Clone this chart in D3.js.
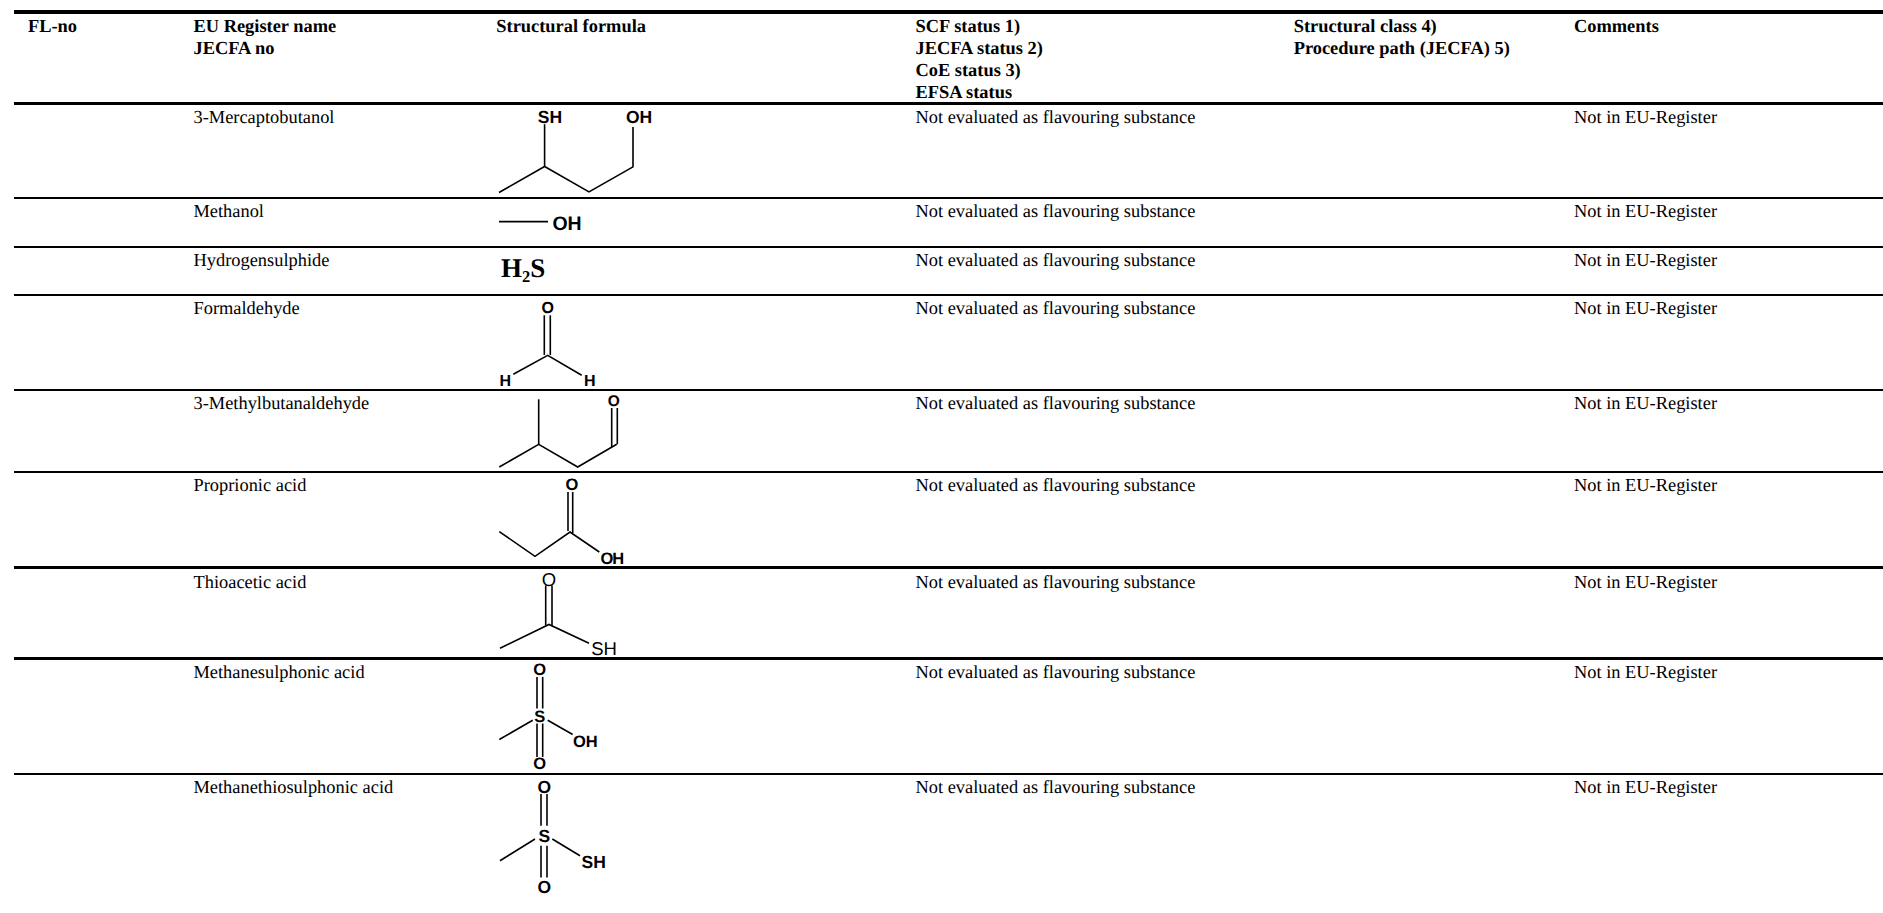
<!DOCTYPE html>
<html>
<head>
<meta charset="utf-8">
<title>Flavouring substances table</title>
<script src="https://cdnjs.cloudflare.com/ajax/libs/d3/7.8.5/d3.min.js"></script>
<style>
  html, body { margin: 0; padding: 0; background: #fff; overflow: hidden; }
  svg { display: block; }
  text { fill: #000; text-rendering: geometricPrecision; }
  .cell { font-family: "Liberation Serif", serif; font-size: 18.4px; }
  .head { font-weight: bold; }
  .atom { font-family: "Liberation Sans", sans-serif; font-weight: bold; text-anchor: middle; }
</style>
</head>
<body>
<div id="container"></div>
<script>
// table text
var headers = [
    ["FL-no"],
    ["EU Register name", "JECFA no"],
    ["Structural formula"],
    ["SCF status 1)", "JECFA status 2)", "CoE status 3)", "EFSA status"],
    ["Structural class 4)", "Procedure path (JECFA) 5)"],
    ["Comments"]
];
var substances = [
    "3-Mercaptobutanol",
    "Methanol",
    "Hydrogensulphide",
    "Formaldehyde",
    "3-Methylbutanaldehyde",
    "Proprionic acid",
    "Thioacetic acid",
    "Methanesulphonic acid",
    "Methanethiosulphonic acid"
];
var statusText = "Not evaluated as flavouring substance";
var commentText = "Not in EU-Register";

// structural formulas: bonds as chains of points, measured from the top left of the formula cell
var skeletons = [
    [[[0, 89], [45.6, 63], [90, 88.4], [134, 63.4], [134, 23.4]], [[45.6, 63], [45.6, 20.7]]],
    [[[0, 23.6], [49, 23.6]]],
    [],
    [[[14.3, 79.3], [48.7, 60.3], [82.7, 80.3]], [[45.3, 60], [45.3, 20.3]], [[51.3, 60], [51.3, 20.3]]],
    [[[0.3, 77], [39.7, 54.3], [78.7, 77], [117.7, 54.3]], [[39.7, 54.3], [39.7, 9.3]], [[112.7, 57], [112.7, 18]], [[118.3, 54.3], [118.3, 18]]],
    [[[0.3, 59.6], [36, 84.3], [71, 60], [100.3, 80]], [[69, 59], [69, 20]], [[73.7, 61], [73.7, 20]]],
    [[[1, 80.7], [50, 57], [90, 75.7]], [[46.7, 58], [46.7, 18]], [[53, 58], [53, 18]]],
    [[[0.3, 81], [33.7, 61.7]], [[48.7, 61.7], [73.7, 76]], [[38, 18.4], [38, 50]], [[43.7, 18.4], [43.7, 50]], [[38, 65], [38, 98.4]], [[43.7, 65], [43.7, 98.4]]],
    [[[1, 86.7], [36, 65]], [[53.3, 65], [81, 81.7]], [[42, 20], [42, 51.7]], [[48, 20], [48, 51.7]], [[42, 71.7], [42, 103.4]], [[48, 71.7], [48, 103.4]]]
];
// atom labels: text, x, y
var atomLabels = [
    [["SH", 51, 13.4], ["OH", 140, 13.4]],
    [["OH", 68, 25.3]],
    [],
    [["O", 48.7, 12], ["H", 6.3, 85.3], ["H", 90.7, 85.3]],
    [["O", 114.7, 10.3]],
    [["O", 72.3, 11.6], ["OH", 112.7, 85.6]],
    [["O", 50, 11.7], ["SH", 105, 80.7]],
    [["O", 40.7, 11], ["S", 40.7, 57.7], ["O", 40.7, 105], ["OH", 86.3, 82.4]],
    [["O", 45.3, 12.4], ["S", 45.3, 61.7], ["O", 45.3, 112.7], ["SH", 94.7, 87.7]]
];

// layout
var width = 1883,
    height = 913;
var columnX = [28, 193.5, 496.3, 915.5, 1293.7, 1574];
var ruleY = [12, 103.5, 198, 247, 295, 390, 472, 567.5, 658.5, 774];
var ruleWeight = [4, 3, 2, 2, 2, 2, 2, 3, 3, 2];
var textDrop = [19.8, 18.5, 18.5, 19.1, 18.5, 18.5, 20.3, 19.8, 19.3];
var formulaX = 499;
var atomSize = [17.5, 19.5, 0, 16, 15.5, 16.5, 18.5, 16.5, 17.5];
var lineGap = 21.9;

var svg = d3.select("div#container")
    .append("svg")
    .attr("width", width)
    .attr("height", height)
    .attr("viewBox", "0 0 " + width + " " + height);

//Horizontal rules
svg.selectAll(".rule")
    .data(ruleY)
    .enter().append("line")
    .attr("class", "rule")
    .attr("x1", 14)
    .attr("x2", width)
    .attr("y1", function (d) { return d })
    .attr("y2", function (d) { return d })
    .attr("stroke", "#000")
    .attr("stroke-width", function (d, i) { return ruleWeight[i] });

//Header cells
headers.forEach(function (lines, col) {
    svg.selectAll(null)
        .data(lines)
        .enter().append("text")
        .attr("class", "cell head")
        .attr("x", columnX[col])
        .attr("y", function (d, i) { return 32.4 + i * lineGap })
        .text(function (d) { return d });
});

//Body rows
var rows = svg.selectAll(".row")
    .data(substances)
    .enter().append("g")
    .attr("class", "row");

rows.append("text")
    .attr("class", "cell")
    .attr("x", columnX[1])
    .attr("y", function (d, i) { return ruleY[i + 1] + textDrop[i] })
    .text(function (d) { return d });

rows.append("text")
    .attr("class", "cell")
    .attr("x", columnX[3])
    .attr("y", function (d, i) { return ruleY[i + 1] + textDrop[i] })
    .text(statusText);

rows.append("text")
    .attr("class", "cell")
    .attr("x", columnX[5])
    .attr("y", function (d, i) { return ruleY[i + 1] + textDrop[i] })
    .text(commentText);

//Structural formulas
substances.forEach(function (name, row) {
    var top = ruleY[row + 1];
    var x = d3.scaleLinear().domain([0, 100]).range([formulaX, formulaX + 100]);
    var y = d3.scaleLinear().domain([0, 100]).range([top, top + 100]);
    var bond = d3.line()
        .x(function (d) { return x(d[0]) })
        .y(function (d) { return y(d[1]) });

    var g = svg.append("g").attr("class", "formula");

    g.selectAll("path")
        .data(skeletons[row])
        .enter().append("path")
        .attr("d", bond)
        .attr("fill", "none")
        .attr("stroke", "#000")
        .attr("stroke-width", 1.6);

    // the thioacetic acid drawing has plain labels, the others are bold
    g.selectAll("text")
        .data(atomLabels[row])
        .enter().append("text")
        .attr("class", "atom")
        .attr("x", function (d) { return x(d[1]) })
        .attr("y", function (d) { return y(d[2]) })
        .attr("dy", "0.36em")
        .attr("font-size", atomSize[row])
        .style("font-weight", name === "Thioacetic acid" ? "normal" : "bold")
        .style("letter-spacing", name === "Proprionic acid" ? "-1.2px" : null)
        .text(function (d) { return d[0] });
});

//H2S is written out instead of drawn
var h2s = svg.append("text")
    .attr("x", formulaX + 2)
    .attr("y", ruleY[3] + 30)
    .attr("font-family", "Liberation Serif, serif")
    .attr("font-weight", "bold")
    .attr("font-size", 27);
h2s.append("tspan").text("H");
h2s.append("tspan").attr("font-size", 16.5).attr("dy", 5).text("2");
h2s.append("tspan").attr("dy", -5).text("S");
</script>
</body>
</html>
